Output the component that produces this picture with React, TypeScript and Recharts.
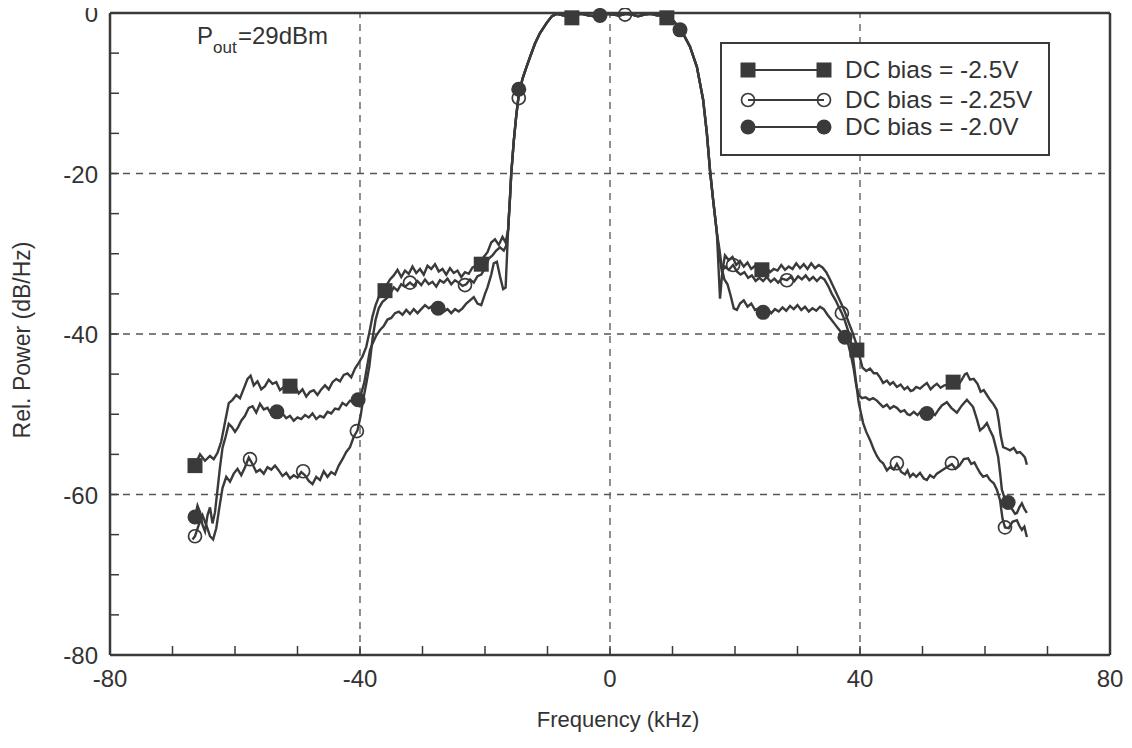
import React from 'react';
import {
  ComposedChart,
  Line,
  Scatter,
  XAxis,
  YAxis,
  ReferenceLine,
  Legend,
} from 'recharts';

// frequency (kHz), relative power (dB/Hz)
const mainLobe: [number, number][] = [
  [-16.3, -27], [-16.0, -23], [-15.8, -20], [-15.4, -16], [-15.0, -12.8], [-14.6, -10.2],
  [-14.0, -8.2], [-13.4, -6.8], [-12.8, -5.5], [-12.0, -3.8], [-11.2, -2.5], [-10.1, -1.2],
  [-9.3, -0.4], [-8.5, -0.1], [-7.5, -0.3], [-6.5, -0.4], [-5.5, -0.2], [-4.5, -0.1],
  [-3.5, -0.3], [-2.5, -0.4], [-1.5, -0.2], [-0.5, -0.1], [0.5, -0.2], [1.5, -0.3],
  [2.5, -0.1], [3.5, -0.2], [4.5, -0.4], [5.5, -0.2], [6.5, -0.1], [7.5, -0.3],
  [8.5, -0.3], [9.5, -0.5], [10.3, -1.1], [11.2, -2.1], [12.0, -3.0], [12.8, -4.2],
  [13.9, -6.7], [14.9, -10.8], [15.5, -15], [16.0, -19.6], [16.5, -23.3], [17.1, -27.4],
];

const leftA: [number, number][] = [
  [-66.8, -56.5], [-66.2, -56.0], [-65.6, -55.0], [-64.8, -55.8], [-64.0, -55.2], [-63.4, -55.6],
  [-62.8, -54.8], [-62.2, -53.4], [-61.6, -51.0], [-61.0, -48.6], [-60.4, -48.2], [-59.8, -47.6],
  [-59.2, -48.0], [-58.6, -46.8], [-58.0, -45.6], [-57.5, -45.2], [-57.0, -46.4], [-56.4, -45.9],
  [-55.8, -46.9], [-55.2, -46.5], [-54.6, -45.7], [-54.0, -46.2], [-53.4, -46.0], [-52.8, -47.0],
  [-52.2, -46.6], [-51.6, -46.3], [-51.0, -46.8], [-50.4, -46.5], [-49.8, -47.4], [-49.2, -46.9],
  [-48.6, -47.8], [-48.0, -47.2], [-47.4, -47.0], [-46.8, -47.6], [-46.2, -46.9], [-45.6, -46.4],
  [-45.0, -46.9], [-44.4, -46.0], [-43.8, -45.6], [-43.2, -45.9], [-42.6, -45.1], [-42.0, -44.9],
  [-41.4, -45.4], [-40.8, -44.3], [-40.2, -43.6], [-39.6, -42.8], [-39.0, -41.6], [-38.5, -39.8],
  [-38.0, -37.8], [-37.5, -36.4], [-37.0, -35.4], [-36.4, -34.6], [-35.8, -34.0], [-35.2, -33.2],
  [-34.6, -32.7], [-34.0, -32.0], [-33.4, -32.9], [-32.8, -32.1], [-32.2, -32.5], [-31.6, -31.6],
  [-31.0, -32.4], [-30.4, -31.9], [-29.8, -32.6], [-29.2, -31.5], [-28.6, -31.9], [-28.0, -31.3],
  [-27.4, -32.2], [-26.8, -31.9], [-26.2, -32.6], [-25.6, -31.8], [-25.0, -32.4], [-24.4, -32.1],
  [-23.8, -32.9], [-23.2, -32.3], [-22.6, -32.5], [-22.0, -31.7], [-21.4, -31.5], [-20.8, -31.2],
  [-20.2, -30.4], [-19.6, -29.8], [-19.0, -28.6], [-18.4, -28.2], [-17.8, -28.9], [-17.2, -27.9],
  [-16.7, -28.6],
];
const rightA: [number, number][] = [
  [17.6, -35.6], [18.0, -32.0], [18.4, -30.2], [19.0, -30.8], [19.6, -30.4], [20.2, -31.4],
  [20.8, -30.9], [21.4, -31.6], [22.0, -31.1], [22.6, -31.9], [23.2, -31.5], [23.8, -32.2],
  [24.4, -32.0], [25.0, -31.6], [25.6, -32.3], [26.2, -31.9], [26.8, -32.1], [27.4, -31.4],
  [28.0, -32.0], [28.6, -31.6], [29.2, -31.9], [29.8, -31.2], [30.4, -31.8], [31.0, -31.3],
  [31.6, -31.9], [32.2, -31.2], [32.8, -31.8], [33.4, -31.4], [34.0, -31.7], [34.6, -32.3],
  [35.2, -33.2], [35.8, -34.2], [36.4, -35.2], [37.0, -36.2], [37.6, -37.3], [38.2, -38.6],
  [38.8, -39.8], [39.4, -41.2], [40.0, -43.0], [40.4, -44.2], [41.0, -44.6], [41.6, -44.3],
  [42.2, -44.9], [42.7, -44.9], [43.2, -45.4], [43.7, -46.1], [44.3, -45.8], [44.8, -46.3],
  [45.3, -46.0], [45.9, -46.6], [46.5, -46.3], [47.1, -46.9], [47.6, -46.6], [48.1, -47.1],
  [48.5, -47.0], [49.0, -46.6], [49.6, -46.8], [50.2, -46.4], [50.7, -46.1], [51.3, -46.9],
  [51.8, -46.5], [52.3, -46.2], [52.9, -46.7], [53.5, -46.4], [54.2, -46.3], [54.9, -46.2],
  [55.6, -46.5], [56.2, -45.8], [56.8, -45.0], [57.1, -44.9], [57.6, -45.7], [58.2, -45.6],
  [58.8, -46.2], [59.3, -47.2], [59.8, -47.0], [60.3, -47.6], [60.8, -48.2], [61.4, -48.8],
  [61.9, -49.5], [62.2, -50.8], [62.5, -52.6], [62.9, -54.1], [63.5, -54.3], [64.0, -54.5],
  [64.6, -54.2], [65.1, -54.8], [65.6, -54.7], [66.1, -55.1], [66.4, -55.4], [66.7, -56.3],
];

const leftB: [number, number][] = [
  [-66.8, -65.6], [-66.4, -65.2], [-65.8, -63.8], [-65.2, -62.6], [-64.6, -63.8], [-64.0, -65.2],
  [-63.5, -65.6], [-63.0, -64.2], [-62.5, -61.6], [-62.0, -59.2], [-61.4, -57.8], [-60.8, -58.4],
  [-60.2, -57.4], [-59.6, -56.8], [-59.0, -57.6], [-58.4, -56.6], [-57.8, -55.4], [-57.2, -56.2],
  [-56.6, -57.2], [-56.0, -56.9], [-55.4, -57.4], [-54.8, -56.6], [-54.2, -56.9], [-53.6, -56.4],
  [-53.0, -57.0], [-52.4, -57.7], [-51.8, -57.3], [-51.2, -58.0], [-50.6, -57.6], [-50.0, -57.9],
  [-49.4, -57.2], [-48.8, -57.6], [-48.2, -58.3], [-47.6, -58.7], [-47.0, -57.8], [-46.4, -58.2],
  [-45.8, -57.1], [-45.2, -57.8], [-44.6, -57.2], [-44.0, -57.5], [-43.4, -56.4], [-42.8, -55.6],
  [-42.2, -54.7], [-41.6, -54.1], [-41.0, -52.8], [-40.4, -52.0], [-39.9, -50.2], [-39.5, -48.2],
  [-39.0, -46.2], [-38.5, -44.0], [-38.0, -40.6], [-37.5, -38.2], [-37.0, -36.8], [-36.4, -36.0],
  [-35.8, -35.6], [-35.2, -35.0], [-34.6, -34.2], [-34.0, -34.6], [-33.4, -33.8], [-32.8, -34.1],
  [-32.0, -33.6], [-31.4, -34.0], [-30.8, -33.4], [-30.2, -33.9], [-29.6, -33.2], [-29.0, -33.8],
  [-28.4, -33.5], [-27.8, -34.1], [-27.2, -33.3], [-26.6, -33.6], [-26.0, -33.1], [-25.4, -33.8],
  [-24.8, -33.3], [-24.2, -33.6], [-23.6, -34.0], [-23.0, -33.8], [-22.4, -33.2], [-21.8, -33.6],
  [-21.2, -32.8], [-20.6, -32.6], [-20.0, -31.8], [-19.4, -30.6], [-18.8, -30.2], [-18.2, -29.6],
  [-17.6, -29.2], [-17.0, -29.6], [-16.6, -29.0],
];
const rightB: [number, number][] = [
  [17.5, -30.2], [17.9, -32.2], [18.4, -31.6], [19.0, -32.0], [19.7, -31.4], [20.3, -32.2],
  [20.9, -32.6], [21.5, -32.3], [22.1, -33.0], [22.7, -32.7], [23.3, -33.4], [23.9, -33.0],
  [24.5, -33.4], [25.1, -32.9], [25.7, -33.5], [26.3, -33.1], [26.9, -33.6], [27.5, -33.1],
  [28.3, -33.3], [28.9, -32.9], [29.5, -33.4], [30.1, -32.8], [30.7, -33.2], [31.3, -32.7],
  [31.9, -33.3], [32.5, -32.9], [33.1, -33.4], [33.7, -32.9], [34.3, -33.2], [34.9, -34.0],
  [35.5, -35.0], [36.1, -35.8], [36.7, -36.8], [37.1, -37.4], [37.6, -38.4], [38.1, -39.6],
  [38.6, -41.2], [39.0, -43.6], [39.4, -46.2], [39.8, -48.6], [40.5, -51.1], [41.0, -52.2],
  [41.6, -53.2], [42.2, -54.4], [42.7, -55.2], [43.2, -55.8], [43.7, -56.1], [44.3, -57.0],
  [44.8, -56.6], [45.4, -56.9], [45.9, -56.2], [46.6, -57.2], [47.2, -57.5], [47.6, -57.0],
  [48.0, -57.8], [48.5, -57.4], [49.0, -57.8], [49.6, -57.3], [50.2, -58.0], [50.7, -58.2],
  [51.2, -57.6], [51.8, -57.9], [52.3, -57.4], [52.9, -57.1], [53.5, -56.8], [54.1, -56.5],
  [54.7, -56.2], [55.3, -56.8], [55.9, -56.4], [56.6, -55.6], [57.3, -55.5], [57.8, -56.2],
  [58.3, -56.0], [58.7, -56.6], [59.2, -57.3], [59.7, -57.8], [60.3, -57.6], [60.8, -58.2],
  [61.4, -58.6], [61.9, -59.4], [62.4, -60.7], [62.8, -63.0], [63.2, -64.1], [63.8, -64.2],
  [64.4, -63.4], [65.1, -63.2], [65.5, -63.9], [65.9, -64.4], [66.3, -64.0], [66.7, -65.3],
];

const leftC: [number, number][] = [
  [-66.8, -63.6], [-66.4, -62.8], [-66.0, -61.4], [-65.6, -62.2], [-65.2, -63.8], [-64.8, -64.6],
  [-64.4, -62.6], [-64.0, -61.6], [-63.6, -63.6], [-63.2, -62.2], [-62.8, -59.4], [-62.4, -56.6],
  [-62.0, -54.2], [-61.5, -52.8], [-61.0, -51.2], [-60.5, -51.6], [-60.0, -52.2], [-59.5, -51.6],
  [-59.0, -50.8], [-58.4, -50.2], [-57.8, -49.2], [-57.2, -49.0], [-56.6, -49.8], [-56.0, -48.7],
  [-55.4, -49.4], [-54.8, -49.2], [-54.2, -50.0], [-53.6, -49.6], [-53.0, -50.3], [-52.4, -49.9],
  [-51.8, -50.5], [-51.2, -50.2], [-50.6, -50.8], [-50.0, -50.4], [-49.4, -50.6], [-48.8, -50.1],
  [-48.2, -50.4], [-47.6, -49.9], [-47.0, -50.6], [-46.4, -50.2], [-45.8, -50.4], [-45.2, -49.7],
  [-44.6, -49.9], [-44.0, -49.3], [-43.4, -49.4], [-42.8, -48.6], [-42.2, -48.9], [-41.6, -48.3],
  [-41.0, -48.5], [-40.3, -48.2], [-39.8, -47.4], [-39.3, -46.0], [-38.9, -44.2], [-38.4, -42.0],
  [-38.0, -41.2], [-37.4, -40.2], [-36.8, -39.5], [-36.2, -39.0], [-35.6, -38.2], [-35.0, -38.0],
  [-34.4, -37.4], [-33.8, -37.2], [-33.2, -37.6], [-32.6, -37.0], [-32.0, -37.5], [-31.4, -36.9],
  [-30.8, -37.4], [-30.2, -36.9], [-29.6, -36.4], [-29.0, -36.8], [-28.4, -36.5], [-27.8, -37.0],
  [-27.2, -36.6], [-26.6, -37.2], [-26.0, -36.9], [-25.4, -37.4], [-24.8, -36.9], [-24.2, -37.2],
  [-23.6, -36.8], [-23.0, -36.2], [-22.4, -35.8], [-21.8, -35.4], [-21.2, -36.2], [-20.6, -36.4],
  [-20.0, -35.0], [-19.6, -34.2], [-19.0, -32.6], [-18.6, -31.2], [-18.1, -31.0], [-17.6, -32.8],
  [-17.1, -34.4], [-16.7, -34.2],
];
const rightC: [number, number][] = [
  [17.5, -29.4], [17.9, -31.8], [18.3, -33.2], [18.8, -33.8], [19.3, -35.2], [19.8, -36.8],
  [20.3, -37.0], [20.8, -36.2], [21.4, -35.8], [22.0, -36.6], [22.6, -36.2], [23.2, -37.0],
  [23.8, -36.8], [24.5, -37.3], [25.2, -36.9], [25.8, -37.4], [26.4, -36.9], [27.0, -37.2],
  [27.6, -36.7], [28.2, -37.1], [28.8, -36.5], [29.4, -36.9], [30.0, -36.4], [30.6, -37.0],
  [31.2, -36.6], [31.8, -37.2], [32.4, -36.8], [33.0, -37.1], [33.6, -36.6], [34.2, -36.9],
  [34.8, -37.6], [35.4, -38.2], [36.0, -38.8], [36.6, -39.4], [37.2, -40.0], [37.6, -40.4],
  [38.1, -41.2], [38.6, -42.8], [39.0, -44.4], [39.4, -46.4], [39.8, -47.6], [40.3, -48.0],
  [40.9, -47.9], [41.5, -48.2], [42.1, -48.0], [42.7, -48.3], [43.2, -48.7], [43.7, -49.1],
  [44.3, -48.8], [44.8, -49.3], [45.4, -49.0], [45.9, -49.2], [46.5, -49.7], [47.1, -49.5],
  [47.6, -50.0], [48.0, -50.1], [48.6, -49.7], [49.2, -50.1], [49.8, -49.6], [50.7, -49.9],
  [51.4, -49.7], [52.0, -50.1], [52.6, -49.4], [53.1, -48.9], [53.9, -48.5], [54.6, -49.2],
  [55.5, -49.8], [56.3, -48.9], [57.1, -48.2], [58.1, -49.1], [58.7, -50.6], [59.2, -52.0],
  [59.8, -51.6], [60.3, -51.1], [60.8, -52.0], [61.3, -52.8], [61.7, -54.0], [62.1, -55.3],
  [62.4, -57.2], [62.7, -59.4], [63.2, -60.6], [63.7, -61.0], [64.3, -61.8], [64.8, -62.4],
  [65.1, -62.3], [65.5, -61.6], [65.9, -61.1], [66.3, -61.8], [66.7, -62.3],
];

// marker positions on each trace
const marksA: [number, number][] = [
  [-66.4, -56.4], [-51.2, -46.5], [-36.0, -34.6], [-20.6, -31.3], [-6.1, -0.6],
  [9.1, -0.6], [24.3, -32.0], [39.5, -42.0], [54.9, -46.0],
];
const marksB: [number, number][] = [
  [-66.4, -65.2], [-57.6, -55.6], [-49.1, -57.1], [-40.5, -52.1], [-32.0, -33.6],
  [-23.2, -33.9], [-14.6, -10.6], [2.4, -0.2], [19.7, -31.4], [28.3, -33.3],
  [37.1, -37.4], [45.9, -56.1], [54.7, -56.1], [63.2, -64.1],
];
const marksC: [number, number][] = [
  [-66.4, -62.8], [-53.3, -49.7], [-40.3, -48.2], [-27.5, -36.8], [-14.6, -9.5],
  [-1.6, -0.3], [11.2, -2.1], [24.5, -37.3], [37.6, -40.4], [50.7, -49.9], [63.7, -61.0],
];

const biasLabels = ['DC bias = -2.5V', 'DC bias = -2.25V', 'DC bias = -2.0V'];
const xTicks = [-80, -70, -60, -50, -40, -30, -20, -10, 0, 10, 20, 30, 40, 50, 60, 70, 80];
const yTicks = [-80, -75, -70, -65, -60, -55, -50, -45, -40, -35, -30, -25, -20, -15, -10, -5, 0];
const xGrid = [-40, 0, 40];
const yGrid = [-20, -40, -60];

const toPts = (arr: [number, number][]) => arr.map(([f, p]) => ({ f, p }));
const traceA = toPts([...leftA, ...mainLobe, ...rightA]);
const traceB = toPts([...leftB, ...mainLobe, ...rightB]);
const traceC = toPts([...leftC, ...mainLobe, ...rightC]);

const INK = '#3a3a3a';
const FONT = '"Liberation Sans", Arial, Helvetica, sans-serif';

const SquareMark = (p: any) => (
  <rect x={p.cx - 7.5} y={p.cy - 7.5} width={15} height={15} fill={INK} />
);
const OpenMark = (p: any) => (
  <circle cx={p.cx} cy={p.cy} r={6.5} fill="none" stroke={INK} strokeWidth={1.7} />
);
const DotMark = (p: any) => <circle cx={p.cx} cy={p.cy} r={7.5} fill={INK} />;

const BottomTick = (p: any) => {
  const v = p.payload.value;
  return (
    <g>
      <line x1={p.x} y1={p.y} x2={p.x} y2={p.y - 9} stroke={INK} strokeWidth={1.5} />
      {v % 40 === 0 && (
        <text x={p.x} y={p.y + 32} textAnchor="middle" fontSize={24} fontFamily={FONT} fill="#333">
          {v}
        </text>
      )}
    </g>
  );
};
const TopTick = (p: any) => (
  <line x1={p.x} y1={p.y} x2={p.x} y2={p.y + 9} stroke={INK} strokeWidth={1.5} />
);
const LeftTick = (p: any) => {
  const v = p.payload.value;
  return (
    <g>
      <line x1={p.x} y1={p.y} x2={p.x + 9} y2={p.y} stroke={INK} strokeWidth={1.5} />
      {v % 20 === 0 && (
        <text x={p.x - 12} y={p.y + 9} textAnchor="end" fontSize={24} fontFamily={FONT} fill="#333">
          {v}
        </text>
      )}
    </g>
  );
};
const RightTick = (p: any) => (
  <line x1={p.x} y1={p.y} x2={p.x - 9} y2={p.y} stroke={INK} strokeWidth={1.5} />
);

const markers = [SquareMark, OpenMark, DotMark];
const rowY = [26, 56, 83];

const LegendBox = () => (
  <div
    style={{
      width: 330,
      height: 114,
      border: `2px solid ${INK}`,
      boxSizing: 'border-box',
      background: '#fff',
    }}
  >
    <svg width={326} height={110} style={{ display: 'block' }}>
      {biasLabels.map((label, i) => {
        const M = markers[i];
        return (
          <g key={label}>
            <line x1={26} y1={rowY[i]} x2={102} y2={rowY[i]} stroke={INK} strokeWidth={2} />
            <M cx={26} cy={rowY[i]} />
            <M cx={102} cy={rowY[i]} />
            <text x={123} y={rowY[i] + 8} fontSize={24.5} fontFamily={FONT} fill="#333">
              {label}
            </text>
          </g>
        );
      })}
    </svg>
  </div>
);

const App = () => {
  return (
    <div
      style={{
        position: 'relative',
        width: 1132,
        height: 748,
        margin: '-8px 0 0 -8px',
        background: '#fff',
      }}
    >
      <ComposedChart width={1132} height={748} margin={{ top: 11, right: 20, bottom: 0, left: 0 }}>
        <XAxis
          xAxisId={0}
          dataKey="f"
          type="number"
          domain={[-80, 80]}
          ticks={xTicks}
          interval={0}
          height={93}
          tickSize={0}
          tickMargin={0}
          tickLine={false}
          tick={<BottomTick />}
          axisLine={{ stroke: INK, strokeWidth: 2.5 }}
          label={{
            content: (props: any) => {
              const vb = props.viewBox;
              return (
                <text
                  x={vb.x + vb.width / 2 + 8}
                  y={vb.y + 72}
                  textAnchor="middle"
                  fontSize={22}
                  fontFamily={FONT}
                  fill="#333"
                >
                  Frequency (kHz)
                </text>
              );
            },
          }}
        />
        <XAxis
          xAxisId="top"
          orientation="top"
          type="number"
          domain={[-80, 80]}
          ticks={xTicks}
          interval={0}
          height={2}
          tickSize={0}
          tickMargin={0}
          tickLine={false}
          tick={<TopTick />}
          axisLine={{ stroke: INK, strokeWidth: 2.5 }}
        />
        <YAxis
          yAxisId={0}
          dataKey="p"
          type="number"
          domain={[-80, 0]}
          ticks={yTicks}
          interval={0}
          width={110}
          tickSize={0}
          tickMargin={0}
          tickLine={false}
          tick={<LeftTick />}
          axisLine={{ stroke: INK, strokeWidth: 2.5 }}
          label={{
            content: (props: any) => {
              const vb = props.viewBox;
              const cx = vb.x + 22;
              const cy = vb.y + vb.height / 2 + 6;
              return (
                <text
                  x={cx}
                  y={cy}
                  transform={`rotate(-90 ${cx} ${cy})`}
                  textAnchor="middle"
                  dominantBaseline="central"
                  fontSize={23}
                  fontFamily={FONT}
                  fill="#333"
                >
                  Rel. Power (dB/Hz)
                </text>
              );
            },
          }}
        />
        <YAxis
          yAxisId="right"
          orientation="right"
          type="number"
          domain={[-80, 0]}
          ticks={yTicks}
          interval={0}
          width={2}
          tickSize={0}
          tickMargin={0}
          tickLine={false}
          tick={<RightTick />}
          axisLine={{ stroke: INK, strokeWidth: 2.5 }}
        />

        {xGrid.map((v) => (
          <ReferenceLine key={`gx${v}`} x={v} stroke="#555" strokeWidth={1.3} strokeDasharray="7 6" />
        ))}
        {yGrid.map((v) => (
          <ReferenceLine key={`gy${v}`} y={v} stroke="#555" strokeWidth={1.3} strokeDasharray="7 6" />
        ))}

        <Line data={traceA} dataKey="p" type="linear" stroke={INK} strokeWidth={2.4} dot={false} isAnimationActive={false} legendType="none" />
        <Line data={traceB} dataKey="p" type="linear" stroke={INK} strokeWidth={2.4} dot={false} isAnimationActive={false} legendType="none" />
        <Line data={traceC} dataKey="p" type="linear" stroke={INK} strokeWidth={2.4} dot={false} isAnimationActive={false} legendType="none" />

        <Scatter data={toPts(marksA)} shape={SquareMark} isAnimationActive={false} legendType="none" />
        <Scatter data={toPts(marksB)} shape={OpenMark} isAnimationActive={false} legendType="none" />
        <Scatter data={toPts(marksC)} shape={DotMark} isAnimationActive={false} legendType="none" />

        <Legend
          layout="vertical"
          align="center"
          verticalAlign="middle"
          content={() => <LegendBox />}
          wrapperStyle={{ left: 720, top: 42, width: 330, height: 114 }}
        />
      </ComposedChart>
      <svg
        width={1132}
        height={748}
        style={{ position: 'absolute', left: 0, top: 0, pointerEvents: 'none' }}
      >
        <text x={197} y={44} fontSize={24} fontFamily={FONT} fill="#333">
          P
          <tspan x={213} y={53} fontSize={17}>out</tspan>
          <tspan x={238} y={44}>=29dBm</tspan>
        </text>
      </svg>
    </div>
  );
};

export default App;
